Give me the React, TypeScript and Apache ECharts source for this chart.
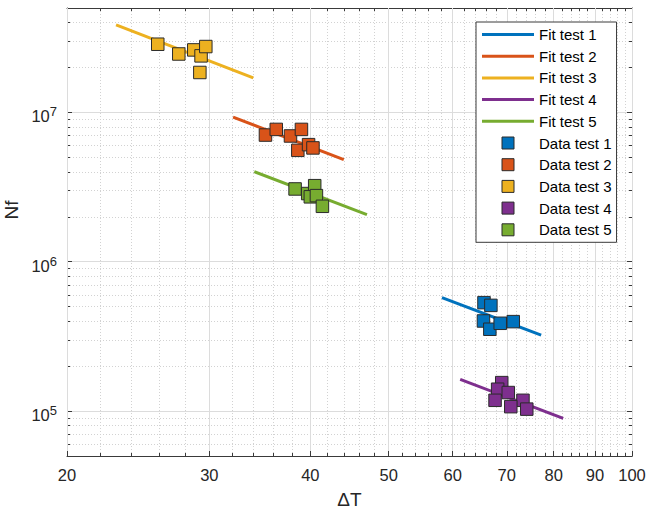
import React, { useEffect, useRef } from "react";
import * as echarts from "echarts";

const FONT = '"Liberation Sans", Arial, Helvetica, sans-serif';
const AXIS_COLOR = "#3a3a3a";
const TEXT_COLOR = "#262626";

// Tick values
const xMajorTicks = [20, 30, 40, 50, 60, 70, 80, 90, 100];
const xMinorTicks = [22, 24, 26, 28, 32, 34, 36, 38, 42, 44, 46, 48, 52, 54, 56, 58, 62, 64, 66, 68, 72, 74, 76, 78, 82, 84, 86, 88, 92, 94, 96, 98];
const yMajorTicks = [1e5, 1e6, 1e7];
const yMinorTicks = [6e4, 7e4, 8e4, 9e4, 2e5, 3e5, 4e5, 5e5, 6e5, 7e5, 8e5, 9e5, 2e6, 3e6, 4e6, 5e6, 6e6, 7e6, 8e6, 9e6, 2e7, 3e7, 4e7];

// Series
const testNames = ["test 1", "test 2", "test 3", "test 4", "test 5"];
const colors = ["#0072BD", "#D95319", "#EDB120", "#7E2F8E", "#77AC30"];

const fit1 = [[58.2, 5.74e5], [77.2, 3.22e5]];
const fit2 = [[32.1, 9.3e6], [44.0, 4.83e6]];
const fit3 = [[23.0, 3.85e7], [34.0, 1.7e7]];
const fit4 = [[61.3, 1.63e5], [82.2, 8.93e4]];
const fit5 = [[34.1, 4.01e6], [47.0, 2.07e6]];

const data1 = [[65.6, 5.32e5], [66.9, 5.1e5], [65.5, 4.01e5], [66.7, 3.53e5], [68.7, 3.87e5], [71.3, 3.97e5]];
const data2 = [[35.2, 7.05e6], [36.3, 7.69e6], [37.8, 6.95e6], [39.0, 7.69e6], [38.6, 5.57e6], [39.8, 6.08e6], [40.3, 5.78e6]];
const data3 = [[25.9, 2.86e7], [27.5, 2.46e7], [28.7, 2.62e7], [29.3, 2.39e7], [29.7, 2.76e7], [29.2, 1.85e7]];
const data4 = [[69.0, 1.55e5], [68.2, 1.4e5], [70.3, 1.33e5], [67.7, 1.18e5], [73.3, 1.18e5], [70.8, 1.07e5], [74.1, 1.03e5]];
const data5 = [[38.3, 3.07e6], [39.7, 2.86e6], [40.5, 3.23e6], [40.0, 2.72e6], [40.7, 2.77e6], [41.4, 2.35e6]];

const fits = [fit1, fit2, fit3, fit4, fit5];
const datas = [data1, data2, data3, data4, data5];

const SQUARE_ICON = "path://M0 0H10V10H0Z";
const LINE_ICON = "path://M0 0H52V3H0Z";

function buildOption() {
  const xCommon = { type: "log", logBase: 10, min: 20, max: 100, gridIndex: 0 };
  const yCommon = { type: "log", logBase: 10, min: 5e4, max: 5e7, gridIndex: 0 };
  const axisLine = { show: true, lineStyle: { color: AXIS_COLOR, width: 1 } };
  const noLine = { show: false };
  const majorGrid = { show: true, lineStyle: { color: "#dcdcdc", width: 1, type: "solid" } };
  const minorGrid = { show: true, lineStyle: { color: "#d2d2d2", width: 1, type: [1, 2] } };
  const tick = (vals: number[], len: number) => ({
    show: true,
    inside: true,
    length: len,
    customValues: vals,
    lineStyle: { color: AXIS_COLOR, width: 1 },
  });
  const hiddenLabel = { show: false };

  const xAxis = [
    {
      ...xCommon,
      position: "bottom",
      name: "\u0394T",
      nameLocation: "middle",
      nameGap: 34,
      nameTextStyle: { fontSize: 19, color: TEXT_COLOR, fontFamily: FONT },
      axisLine,
      axisTick: tick(xMajorTicks, 5),
      axisLabel: {
        show: true,
        customValues: xMajorTicks,
        formatter: (v: number) => String(Math.round(v)),
        margin: 10,
        fontSize: 16.5,
        color: TEXT_COLOR,
        fontFamily: FONT,
        showMinLabel: true,
        showMaxLabel: true,
      },
      splitLine: majorGrid,
      z: 1,
    },
    { ...xCommon, position: "bottom", axisLine: noLine, axisTick: tick(xMinorTicks, 3), axisLabel: hiddenLabel, splitLine: minorGrid },
    { ...xCommon, position: "top", axisLine, axisTick: tick(xMajorTicks, 5), axisLabel: hiddenLabel, splitLine: { show: false } },
    { ...xCommon, position: "top", axisLine: noLine, axisTick: tick(xMinorTicks, 3), axisLabel: hiddenLabel, splitLine: { show: false } },
  ];

  const yAxis = [
    {
      ...yCommon,
      position: "left",
      name: "Nf",
      nameLocation: "middle",
      nameGap: 40,
      nameTextStyle: { fontSize: 19, color: TEXT_COLOR, fontFamily: FONT, padding: [0, 0, 0, 44] },
      axisLine,
      axisTick: tick(yMajorTicks, 5),
      axisLabel: {
        show: true,
        customValues: yMajorTicks,
        formatter: (v: number) => `{b|10}{s|${Math.round(Math.log10(v))}}`,
        margin: 10,
        rich: {
          b: { fontSize: 16.5, fontFamily: FONT, color: TEXT_COLOR, lineHeight: 22, padding: [8, 0, 0, 0] },
          s: { fontSize: 13, fontFamily: FONT, color: TEXT_COLOR, lineHeight: 13, padding: [4, 0, 0, 0], verticalAlign: "top" },
        },
      },
      splitLine: majorGrid,
    },
    { ...yCommon, position: "left", axisLine: noLine, axisTick: tick(yMinorTicks, 3), axisLabel: hiddenLabel, splitLine: minorGrid },
    { ...yCommon, position: "right", axisLine, axisTick: tick(yMajorTicks, 5), axisLabel: hiddenLabel, splitLine: { show: false } },
    { ...yCommon, position: "right", axisLine: noLine, axisTick: tick(yMinorTicks, 3), axisLabel: hiddenLabel, splitLine: { show: false } },
  ];

  const fitSeries = fits.map((d, i) => ({
    name: "Fit " + testNames[i],
    type: "line",
    xAxisIndex: 0,
    yAxisIndex: 0,
    data: d,
    symbol: "none",
    showSymbol: false,
    color: colors[i],
    lineStyle: { color: colors[i], width: 3 },
    z: 3,
  }));

  const dataSeries = datas.map((d, i) => ({
    name: "Data " + testNames[i],
    type: "scatter",
    xAxisIndex: 0,
    yAxisIndex: 0,
    data: d,
    symbol: "rect",
    symbolSize: 12.5,
    color: colors[i],
    itemStyle: { color: colors[i], borderColor: "#2b2b2b", borderWidth: 1, opacity: 1 },
    z: 4,
  }));

  return {
    animation: false,
    backgroundColor: "#ffffff",
    textStyle: { fontFamily: FONT },
    grid: { left: 67, top: 8, width: 565, height: 448, outerBoundsMode: "none", containLabel: false },
    xAxis,
    yAxis,
    legend: {
      orient: "vertical",
      left: 476,
      top: 22,
      padding: [5, 5, 5, 6],
      itemGap: 6.7,
      itemWidth: 52,
      itemHeight: 12,
      selectedMode: false,
      backgroundColor: "#ffffff",
      borderColor: AXIS_COLOR,
      borderWidth: 1,
      borderRadius: 0,
      textStyle: { fontSize: 15, color: "#000000", fontFamily: FONT, lineHeight: 15 },
      data: [
        ...testNames.map((t, i) => ({
          name: "Fit " + t,
          icon: LINE_ICON,
          itemStyle: { color: colors[i], borderWidth: 0 },
        })),
        ...testNames.map((t, i) => ({
          name: "Data " + t,
          icon: SQUARE_ICON,
          itemStyle: { color: colors[i], borderColor: "#2b2b2b", borderWidth: 1 },
        })),
      ],
    },
    series: [...fitSeries, ...dataSeries],
  };
}

export default function App() {
  const ref = useRef<HTMLDivElement>(null);
  useEffect(() => {
    if (!ref.current) return;
    const chart = echarts.init(ref.current, undefined, { renderer: "svg" });
    chart.setOption(buildOption() as any);
    return () => chart.dispose();
  }, []);
  return (
    <div
      ref={ref}
      style={{ position: "fixed", left: 0, top: 0, width: 648, height: 510, background: "#fff" }}
    />
  );
}
